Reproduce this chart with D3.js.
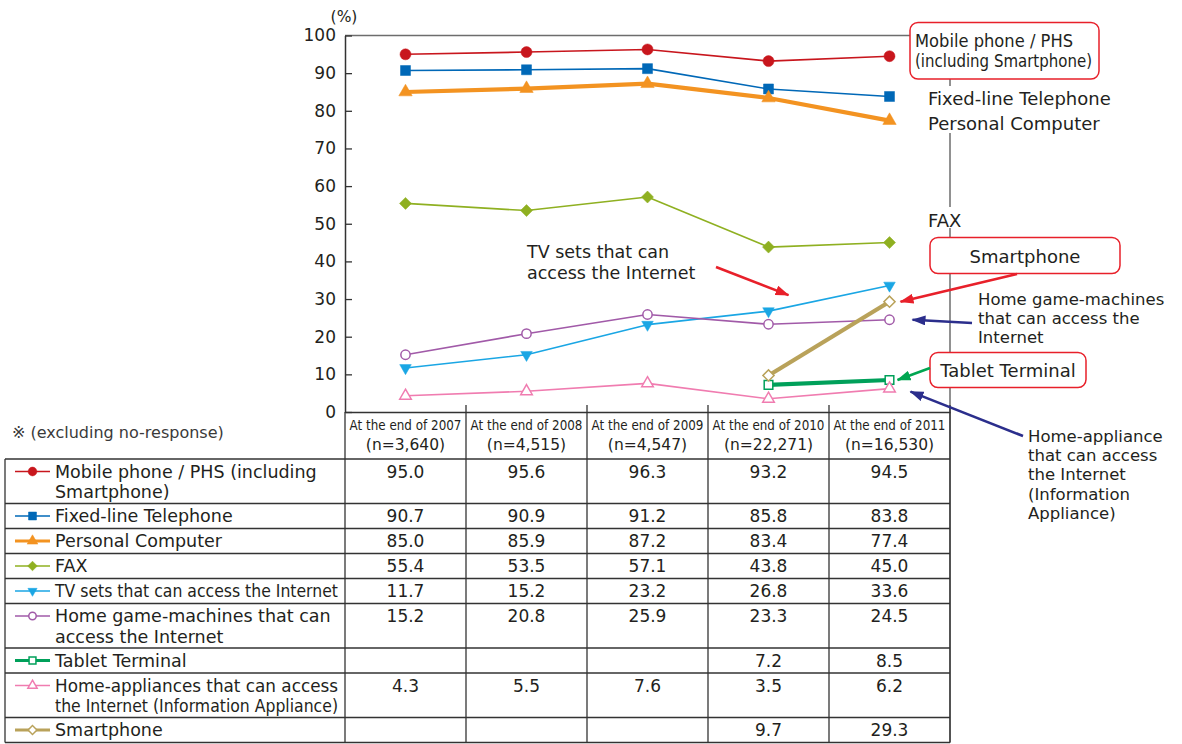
<!DOCTYPE html>
<html>
<head>
<meta charset="utf-8">
<script src="https://cdn.jsdelivr.net/npm/d3@7"></script>
<style>
  body { margin: 0; background: #fff; }
  svg { display: block; font-family: "DejaVu Sans", "Noto Sans", sans-serif; }
</style>
</head>
<body>
<svg id="chart" width="1182" height="744"></svg>
<script>
// ---- data ----
const periods = ["At the end of 2007", "At the end of 2008", "At the end of 2009", "At the end of 2010", "At the end of 2011"];
const sampleSizes = ["(n=3,640)", "(n=4,515)", "(n=4,547)", "(n=22,271)", "(n=16,530)"];
const yTicks = [0, 10, 20, 30, 40, 50, 60, 70, 80, 90, 100];

const mobilePhone      = [95.0, 95.6, 96.3, 93.2, 94.5];
const fixedLine        = [90.7, 90.9, 91.2, 85.8, 83.8];
const personalComputer = [85.0, 85.9, 87.2, 83.4, 77.4];
const fax              = [55.4, 53.5, 57.1, 43.8, 45.0];
const internetTV       = [11.7, 15.2, 23.2, 26.8, 33.6];
const gameMachines     = [15.2, 20.8, 25.9, 23.3, 24.5];
const tabletTerminal   = [null, null, null, 7.2, 8.5];
const infoAppliance    = [4.3, 5.5, 7.6, 3.5, 6.2];
const smartphone       = [null, null, null, 9.7, 29.3];

const seriesNames = [
  ["Mobile phone / PHS (including", "Smartphone)"],
  ["Fixed-line Telephone"],
  ["Personal Computer"],
  ["FAX"],
  ["TV sets that can access the Internet"],
  ["Home game-machines that can", "access the Internet"],
  ["Tablet Terminal"],
  ["Home-appliances that can access", "the Internet (Information Appliance)"],
  ["Smartphone"]
];

// ---- styling per series ----
const series = [
  { values: mobilePhone,      color: "#c8161d", shape: "circle",   filled: true,  width: 1.6, size: 95 },
  { values: fixedLine,        color: "#0068b7", shape: "square",   filled: true,  width: 1.6, size: 100 },
  { values: personalComputer, color: "#f39321", shape: "triUp",    filled: true,  width: 4.2, size: 78 },
  { values: fax,              color: "#8fb021", shape: "diamond",  filled: true,  width: 1.6, size: 72 },
  { values: internetTV,       color: "#1aa6e4", shape: "triDown",  filled: true,  width: 1.6, size: 58 },
  { values: gameMachines,     color: "#a15aa8", shape: "circle",   filled: false, width: 1.6, size: 68 },
  { values: tabletTerminal,   color: "#00a05a", shape: "square",   filled: false, width: 4.2, size: 74 },
  { values: infoAppliance,    color: "#f07cb0", shape: "triUp",    filled: false, width: 1.6, size: 58 },
  { values: smartphone,       color: "#b9a25a", shape: "diamond",  filled: false, width: 4.2, size: 62 }
].map((s, i) => ({ ...s, name: seriesNames[i] }));

const textColor = "#231f20";
const svg = d3.select("#chart");

// ---- scales ----
const x = d3.scaleBand().domain(periods).range([345, 950]).padding(0);
const y = d3.scaleLinear().domain([0, 100]).range([412, 35.5]);
const cx = p => x(p) + x.bandwidth() / 2;

const symbolTypes = {
  circle: [d3.symbolCircle, 0],
  square: [d3.symbolSquare, 0],
  triUp: [d3.symbolTriangle, 0],
  triDown: [d3.symbolTriangle, 180],
  diamond: [d3.symbolSquare, 45]
};
function drawMarker(g, s, px, py, scale) {
  const [type, rot] = symbolTypes[s.shape];
  g.append("path")
    .attr("d", d3.symbol(type, s.size * scale * scale)())
    .attr("transform", `translate(${px},${py}) rotate(${rot})`)
    .attr("fill", s.filled ? s.color : "#fff")
    .attr("stroke", s.color)
    .attr("stroke-width", s.filled ? 0.5 : 1.5);
}

// ---- frame lines ----
const frame = svg.append("g");
// top edge of the plot, leading to the mobile-phone callout
frame.append("line").attr("x1", 345).attr("x2", 910).attr("y1", y(100)).attr("y2", y(100))
  .attr("stroke", "#6d6d6d").attr("stroke-width", 1.5);
// right edge of the plot / table, broken by the series labels
[[79, 86], [133, 207], [228, 742.5]].forEach(([a, b]) =>
  frame.append("line").attr("x1", 950).attr("x2", 950).attr("y1", a).attr("y2", b)
    .attr("stroke", "#6d6d6d").attr("stroke-width", 1.5));

// ---- y axis ----
const gy = svg.append("g")
  .attr("transform", "translate(345,0)")
  .call(d3.axisLeft(y).tickValues(yTicks).tickSizeInner(-7).tickSizeOuter(0).tickPadding(9));
gy.attr("font-family", null).attr("font-size", null);
gy.select(".domain").attr("stroke", "#333").attr("stroke-width", 1.5);
gy.selectAll(".tick line").attr("stroke", "#333").attr("stroke-width", 1.3);
gy.selectAll(".tick text").attr("font-size", 17).attr("fill", textColor);
svg.append("text").attr("x", 344).attr("y", 22).attr("text-anchor", "middle")
  .attr("font-size", 15.5).attr("fill", textColor).text("(%)");

// axis continues down as the table's first column edge
svg.append("line").attr("x1", 345).attr("x2", 345).attr("y1", y(0)).attr("y2", 742.5)
  .attr("stroke", "#333").attr("stroke-width", 1.3);

// ---- x axis (header row of the table) ----
const gx = svg.append("g")
  .attr("transform", `translate(0,${y(0)})`)
  .call(d3.axisBottom(x).tickSize(0).tickFormat(""));
gx.select(".domain").attr("stroke", "#333").attr("stroke-width", 1.5);

const boundaries = periods.map(p => x(p)).slice(1).concat([x.range()[1]]);
boundaries.forEach(bx => {
  svg.append("line").attr("x1", bx).attr("x2", bx).attr("y1", y(0) - 7).attr("y2", 742.5)
    .attr("stroke", "#333").attr("stroke-width", 1.3);
});

// period headings are set in a horizontally condensed face to fit the column
periods.forEach((p, i) => {
  const t = svg.append("text").attr("text-anchor", "middle")
    .attr("font-size", 14.5).attr("fill", textColor).text(p);
  const k = 112 / t.node().getComputedTextLength();
  t.attr("transform", `translate(${cx(p)},430) scale(${k},1)`);
  svg.append("text").attr("x", cx(p)).attr("y", 450).attr("text-anchor", "middle")
    .attr("font-size", 15.5).attr("fill", textColor).text(sampleSizes[i]);
});

svg.append("text").attr("x", 12).attr("y", 438).attr("font-size", 16)
  .attr("fill", "#3a3a3a").text("※ (excluding no-response)");

// ---- table rows ----
const tableTop = 459;
const rowH = s => 25 + (s.name.length - 1) * 19.5;
let rowY = tableTop;
const table = svg.append("g");
table.append("line").attr("x1", 5).attr("x2", 950).attr("y1", tableTop).attr("y2", tableTop)
  .attr("stroke", "#333").attr("stroke-width", 1.3);
series.forEach(s => {
  const top = rowY;
  const h = rowH(s);
  // legend swatch
  const my = top + 12.5;
  table.append("line").attr("x1", 15).attr("x2", 50).attr("y1", my).attr("y2", my)
    .attr("stroke", s.color).attr("stroke-width", s.width > 3 ? 3 : 1.4);
  drawMarker(table, s, 32.5, my, 0.8);
  // label lines
  s.name.forEach((line, k) => {
    const t = table.append("text").attr("x", 55).attr("y", top + 18.5 + k * 20.5)
      .attr("font-size", 17.5).attr("fill", textColor).text(line);
    const w = t.node().getComputedTextLength();
    if (w > 283) t.attr("textLength", 283).attr("lengthAdjust", "spacingAndGlyphs");
  });
  // values
  s.values.forEach((v, i) => {
    if (v == null) return;
    table.append("text").attr("x", cx(periods[i])).attr("y", top + 18.5)
      .attr("text-anchor", "middle").attr("font-size", 17).attr("fill", textColor)
      .text(v.toFixed(1));
  });
  rowY += h;
  table.append("line").attr("x1", 5).attr("x2", 950).attr("y1", rowY).attr("y2", rowY)
    .attr("stroke", "#333").attr("stroke-width", 1.3);
});
table.append("line").attr("x1", 5).attr("x2", 5).attr("y1", tableTop).attr("y2", rowY)
  .attr("stroke", "#333").attr("stroke-width", 1.3);

// ---- lines and markers ----
const plot = svg.append("g");
const lineGen = d3.line()
  .defined(d => d.v != null)
  .x(d => cx(d.p))
  .y(d => y(d.v));
series.forEach(s => {
  const pts = s.values.map((v, i) => ({ p: periods[i], v }));
  plot.append("path").datum(pts).attr("d", lineGen)
    .attr("fill", "none").attr("stroke", s.color).attr("stroke-width", s.width)
    .attr("stroke-linejoin", "round");
});
series.forEach(s => {
  s.values.forEach((v, i) => {
    if (v == null) return;
    drawMarker(plot, s, cx(periods[i]), y(v), 1);
  });
});

// ---- callouts ----
const defs = svg.append("defs");
const arrowColors = { red: "#e8202a", navy: "#2b2e8c", green: "#00a651" };
Object.entries(arrowColors).forEach(([k, c]) => {
  defs.append("marker").attr("id", "arrow-" + k)
    .attr("viewBox", "0 0 14 10").attr("refX", 13).attr("refY", 5)
    .attr("markerWidth", 14).attr("markerHeight", 10)
    .attr("markerUnits", "userSpaceOnUse").attr("orient", "auto")
    .append("path").attr("d", "M0,0 L14,5 L0,10 Z").attr("fill", c);
});
function arrow(from, to, key) {
  svg.append("line").attr("x1", from[0]).attr("y1", from[1]).attr("x2", to[0]).attr("y2", to[1])
    .attr("stroke", arrowColors[key]).attr("stroke-width", 2.6)
    .attr("marker-end", `url(#arrow-${key})`);
}
function labelLines(lines, x0, y0, step, size, anchor = "start") {
  lines.forEach((l, k) => svg.append("text").attr("x", x0).attr("y", y0 + k * step)
    .attr("font-size", size).attr("fill", textColor).attr("text-anchor", anchor).text(l));
}
function box(x0, y0, w, h) {
  svg.append("rect").attr("x", x0).attr("y", y0).attr("width", w).attr("height", h)
    .attr("rx", 8).attr("fill", "#fff").attr("stroke", "#e8202a").attr("stroke-width", 1.5);
}
const last = periods[4], prev = periods[3];

// TV sets
labelLines(["TV sets that can", "access the Internet"], 527, 258, 20.5, 17.5);
arrow([716, 267], [cx(prev) + 20, y(internetTV[3]) - 16], "red");

// Mobile phone box
box(910, 22.5, 189, 56.5);
svg.append("text").attr("x", 915).attr("y", 47).attr("font-size", 17).attr("fill", textColor)
  .attr("textLength", 158).attr("lengthAdjust", "spacingAndGlyphs").text("Mobile phone / PHS");
svg.append("text").attr("x", 915).attr("y", 67).attr("font-size", 17).attr("fill", textColor)
  .attr("textLength", 177).attr("lengthAdjust", "spacingAndGlyphs").text("(including Smartphone)");

labelLines(["Fixed-line Telephone", "Personal Computer"], 928, 105, 25, 18);
labelLines(["FAX"], 928, 227, 0, 18);

// Smartphone box
box(930, 237.5, 190, 36);
labelLines(["Smartphone"], 1025, 263, 0, 18, "middle");
arrow([1017, 274], [cx(last) + 11, y(smartphone[4])], "red");

// Home game-machines
labelLines(["Home game-machines", "that can access the", "Internet"], 978, 305, 19.2, 16.5);
arrow([972, 323], [cx(last) + 23, y(gameMachines[4])], "navy");

// Tablet box
box(930, 352.5, 156, 35);
labelLines(["Tablet Terminal"], 1008, 377, 0, 18, "middle");
arrow([930, 368], [cx(last) + 8, y(tabletTerminal[4])], "green");

// Home-appliance
labelLines(["Home-appliance", "that can access", "the Internet", "(Information", "Appliance)"], 1028, 442, 19.2, 16.5);
arrow([1023, 436], [cx(last) + 21, y(infoAppliance[4]) + 3], "navy");
</script>
</body>
</html>
